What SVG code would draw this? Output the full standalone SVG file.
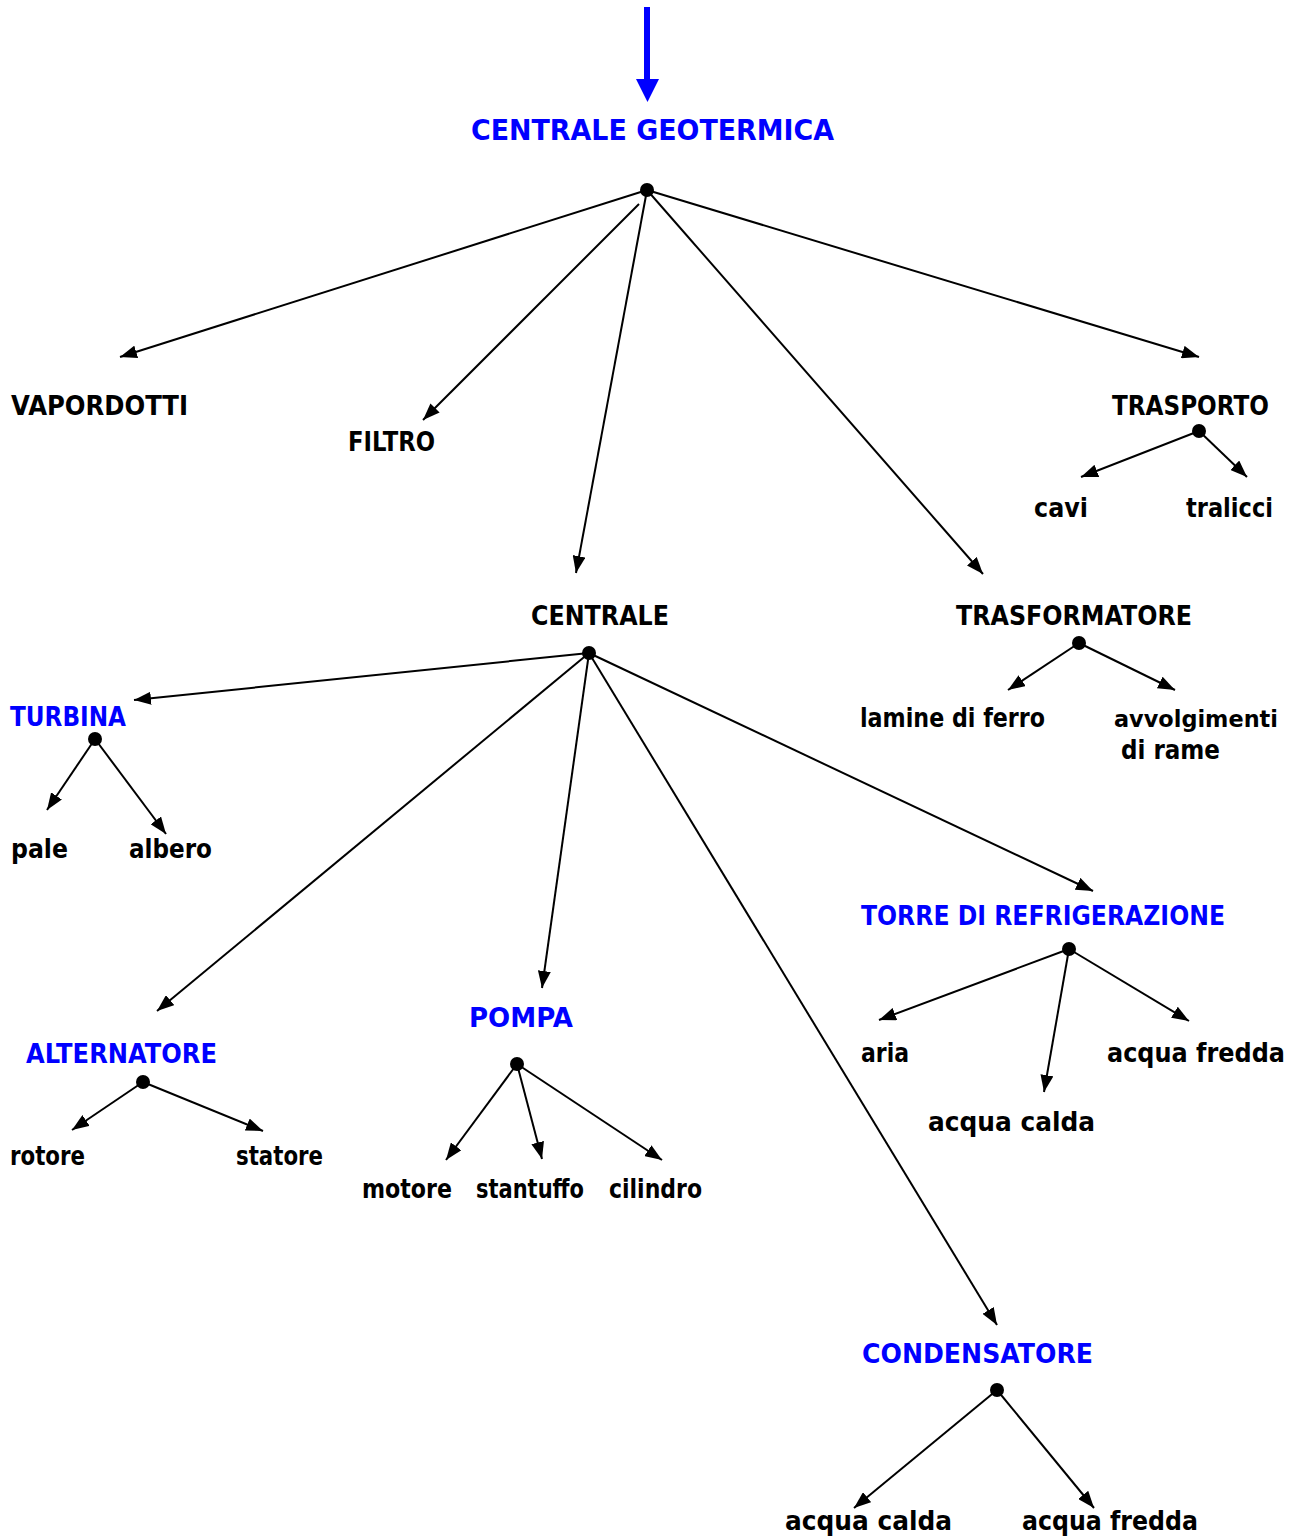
<svg xmlns="http://www.w3.org/2000/svg" width="1298" height="1537" viewBox="0 0 1298 1537">
<style>
text{font-family:"DejaVu Sans","Liberation Sans",sans-serif;font-weight:bold;font-size:26px;fill:#000}
text.b{fill:#0000ff}
text.t{font-size:29px}
.c line{stroke:#000;stroke-width:2;marker-end:url(#ah)}
.dot{fill:#000}
</style>
<defs>
<marker id="ah" viewBox="0 0 17 13" refX="17" refY="6.5" markerWidth="17" markerHeight="13" markerUnits="userSpaceOnUse" orient="auto">
<path d="M0,0 L17,6.5 L0,13 z" fill="#000"/>
</marker>
</defs>
<rect width="1298" height="1537" fill="#fff"/>
<g id="connectors" class="c">
<line x1="647" y1="190" x2="120" y2="357"/>
<line x1="639" y1="204" x2="423" y2="420"/>
<line x1="647" y1="190" x2="576" y2="573"/>
<line x1="647" y1="190" x2="983" y2="574"/>
<line x1="647" y1="190" x2="1199" y2="357"/>
<line x1="1199" y1="431" x2="1081" y2="477"/>
<line x1="1199" y1="431" x2="1247" y2="477"/>
<line x1="589" y1="653" x2="134" y2="700"/>
<line x1="589" y1="653" x2="157" y2="1011"/>
<line x1="589" y1="653" x2="542" y2="988"/>
<line x1="589" y1="653" x2="997" y2="1325"/>
<line x1="589" y1="653" x2="1093" y2="891"/>
<line x1="1079" y1="643" x2="1008" y2="690"/>
<line x1="1079" y1="643" x2="1175" y2="690"/>
<line x1="95" y1="739" x2="47" y2="810"/>
<line x1="95" y1="739" x2="166" y2="834"/>
<line x1="1069" y1="949" x2="879" y2="1020"/>
<line x1="1069" y1="949" x2="1044" y2="1092"/>
<line x1="1069" y1="949" x2="1189" y2="1021"/>
<line x1="517" y1="1064" x2="446" y2="1160"/>
<line x1="517" y1="1064" x2="542" y2="1159"/>
<line x1="517" y1="1064" x2="662" y2="1160"/>
<line x1="143" y1="1082" x2="72" y2="1130"/>
<line x1="143" y1="1082" x2="263" y2="1131"/>
<line x1="997" y1="1390" x2="854" y2="1508"/>
<line x1="997" y1="1390" x2="1094" y2="1508"/>
</g>
<g id="input-arrow">
<rect x="644" y="7" width="6" height="74" fill="#0000ff"/>
<path d="M636,79 L659,79 L647.5,102 z" fill="#0000ff"/>
</g>
<g id="centrale-geotermica">
<text class="b t" x="471" y="140" textLength="363" lengthAdjust="spacingAndGlyphs">CENTRALE GEOTERMICA</text>
<circle class="dot" cx="647" cy="190" r="7"/>
</g>
<g id="vapordotti"><text x="11" y="415" textLength="177" lengthAdjust="spacingAndGlyphs">VAPORDOTTI</text></g>
<g id="filtro"><text x="348" y="451" textLength="87" lengthAdjust="spacingAndGlyphs">FILTRO</text></g>
<g id="trasporto">
<text x="1112" y="415" textLength="157" lengthAdjust="spacingAndGlyphs">TRASPORTO</text>
<circle class="dot" cx="1199" cy="431" r="7"/>
</g>
<g id="cavi"><text x="1034" y="517" textLength="54" lengthAdjust="spacingAndGlyphs">cavi</text></g>
<g id="tralicci"><text x="1186" y="517" textLength="87" lengthAdjust="spacingAndGlyphs">tralicci</text></g>
<g id="centrale">
<text x="531" y="625" textLength="138" lengthAdjust="spacingAndGlyphs">CENTRALE</text>
<circle class="dot" cx="589" cy="653" r="7"/>
</g>
<g id="trasformatore">
<text x="956" y="625" textLength="236" lengthAdjust="spacingAndGlyphs">TRASFORMATORE</text>
<circle class="dot" cx="1079" cy="643" r="7"/>
</g>
<g id="lamine"><text x="860" y="727" textLength="185" lengthAdjust="spacingAndGlyphs">lamine di ferro</text></g>
<g id="avvolgimenti">
<text x="1114" y="727" style="font-size:23px" textLength="164" lengthAdjust="spacingAndGlyphs">avvolgimenti</text>
<text x="1121" y="759" textLength="99" lengthAdjust="spacingAndGlyphs">di rame</text>
</g>
<g id="turbina">
<text class="b" x="10" y="726" textLength="116" lengthAdjust="spacingAndGlyphs">TURBINA</text>
<circle class="dot" cx="95" cy="739" r="7"/>
</g>
<g id="pale"><text x="11" y="858" textLength="57" lengthAdjust="spacingAndGlyphs">pale</text></g>
<g id="albero"><text x="129" y="858" textLength="83" lengthAdjust="spacingAndGlyphs">albero</text></g>
<g id="torre">
<text class="b" x="861" y="925" textLength="364" lengthAdjust="spacingAndGlyphs">TORRE DI REFRIGERAZIONE</text>
<circle class="dot" cx="1069" cy="949" r="7"/>
</g>
<g id="aria"><text x="861" y="1062" textLength="48" lengthAdjust="spacingAndGlyphs">aria</text></g>
<g id="acqua-fredda-1"><text x="1107" y="1062" textLength="178" lengthAdjust="spacingAndGlyphs">acqua fredda</text></g>
<g id="acqua-calda-1"><text x="928" y="1131" textLength="167" lengthAdjust="spacingAndGlyphs">acqua calda</text></g>
<g id="pompa">
<text class="b" x="469" y="1027" textLength="104" lengthAdjust="spacingAndGlyphs">POMPA</text>
<circle class="dot" cx="517" cy="1064" r="7"/>
</g>
<g id="motore"><text x="362" y="1198" textLength="90" lengthAdjust="spacingAndGlyphs">motore</text></g>
<g id="stantuffo"><text x="476" y="1198" textLength="108" lengthAdjust="spacingAndGlyphs">stantuffo</text></g>
<g id="cilindro"><text x="609" y="1198" textLength="93" lengthAdjust="spacingAndGlyphs">cilindro</text></g>
<g id="alternatore">
<text class="b" x="26" y="1063" textLength="191" lengthAdjust="spacingAndGlyphs">ALTERNATORE</text>
<circle class="dot" cx="143" cy="1082" r="7"/>
</g>
<g id="rotore"><text x="10" y="1165" textLength="75" lengthAdjust="spacingAndGlyphs">rotore</text></g>
<g id="statore"><text x="236" y="1165" textLength="87" lengthAdjust="spacingAndGlyphs">statore</text></g>
<g id="condensatore">
<text class="b" x="862" y="1363" textLength="231" lengthAdjust="spacingAndGlyphs">CONDENSATORE</text>
<circle class="dot" cx="997" cy="1390" r="7"/>
</g>
<g id="acqua-calda-2"><text x="785" y="1530" textLength="167" lengthAdjust="spacingAndGlyphs">acqua calda</text></g>
<g id="acqua-fredda-2"><text x="1022" y="1530" textLength="176" lengthAdjust="spacingAndGlyphs">acqua fredda</text></g>
</svg>
